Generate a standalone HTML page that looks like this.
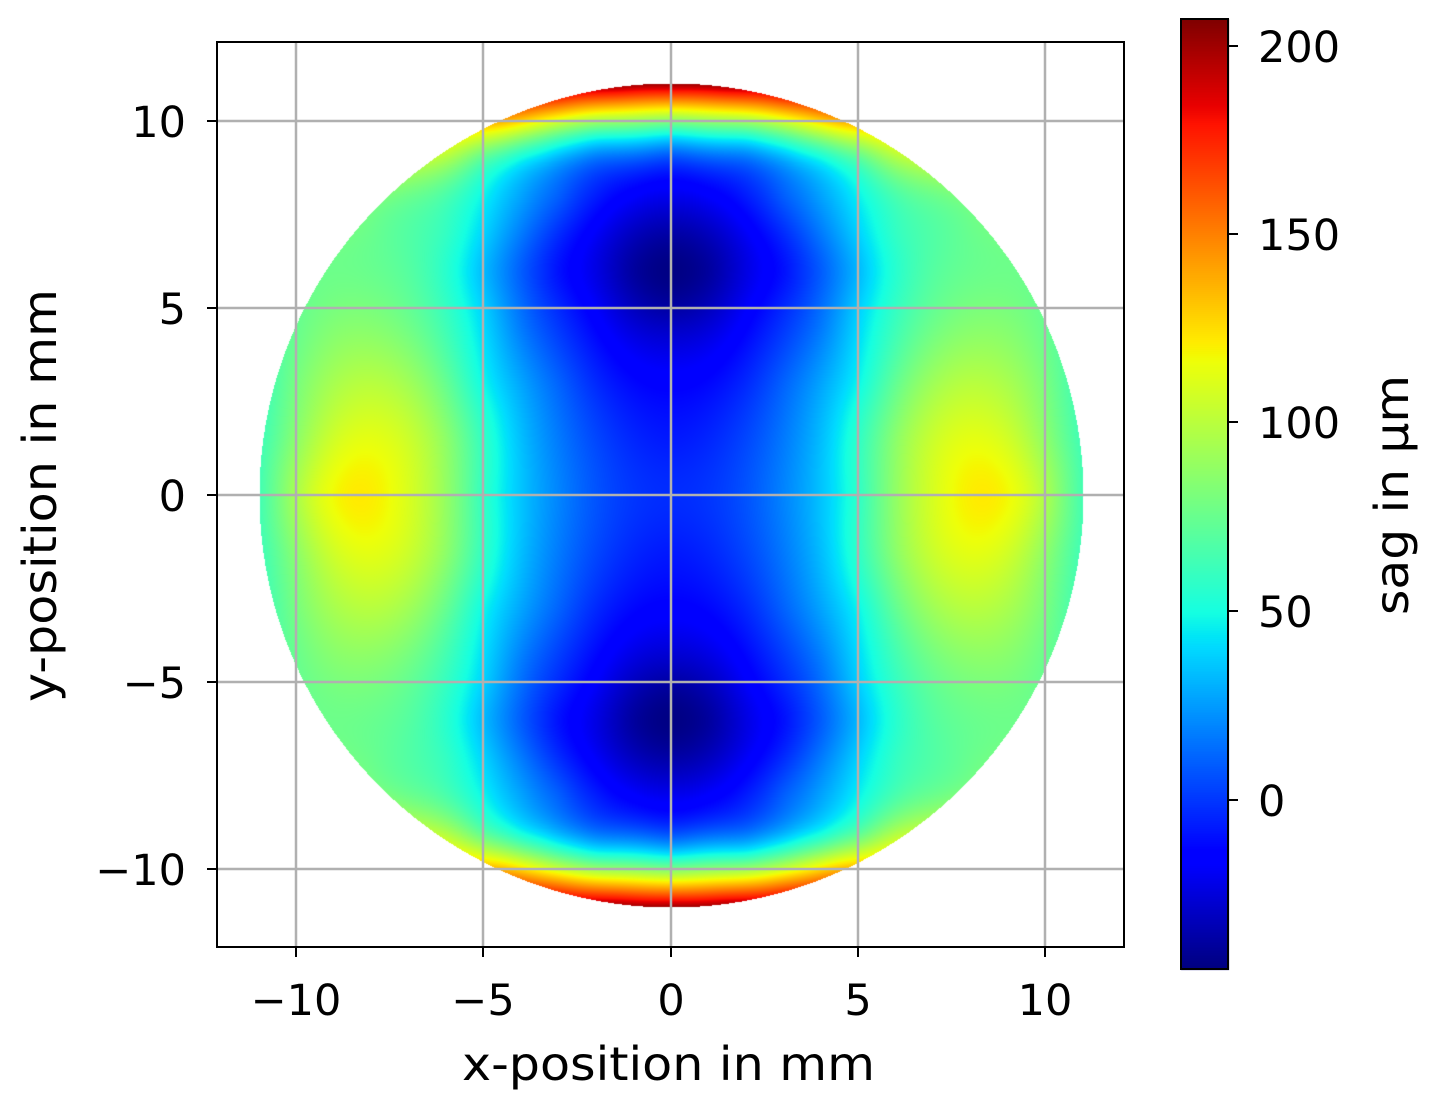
<!DOCTYPE html>
<html><head><meta charset="utf-8"><style>
html,body{margin:0;padding:0;background:#fff;width:1437px;height:1108px;overflow:hidden}
canvas,svg{position:absolute;left:0;top:0}
text{font-family:"DejaVu Sans","Liberation Sans",sans-serif;fill:#000}
</style></head><body>
<canvas id="c" width="1437" height="1108"></canvas>
<svg width="1437" height="1108" viewBox="0 0 1437 1108">
<g stroke="#b0b0b0" stroke-width="2.5">
<line x1="296" y1="42" x2="296" y2="947"/><line x1="483" y1="42" x2="483" y2="947"/><line x1="671" y1="42" x2="671" y2="947"/><line x1="858" y1="42" x2="858" y2="947"/><line x1="1045" y1="42" x2="1045" y2="947"/>
<line x1="217" y1="121" x2="1124" y2="121"/><line x1="217" y1="308" x2="1124" y2="308"/><line x1="217" y1="495" x2="1124" y2="495"/><line x1="217" y1="682" x2="1124" y2="682"/><line x1="217" y1="869" x2="1124" y2="869"/>
</g>
<rect x="217" y="42" width="907" height="905" fill="none" stroke="#000" stroke-width="2"/>
<g stroke="#000" stroke-width="2">
<line x1="296" y1="947" x2="296" y2="957"/><line x1="483" y1="947" x2="483" y2="957"/><line x1="671" y1="947" x2="671" y2="957"/><line x1="858" y1="947" x2="858" y2="957"/><line x1="1045" y1="947" x2="1045" y2="957"/>
<line x1="207" y1="121" x2="217" y2="121"/><line x1="207" y1="308" x2="217" y2="308"/><line x1="207" y1="495" x2="217" y2="495"/><line x1="207" y1="682" x2="217" y2="682"/><line x1="207" y1="869" x2="217" y2="869"/>
<line x1="1228" y1="46" x2="1238" y2="46"/><line x1="1228" y1="234" x2="1238" y2="234"/><line x1="1228" y1="422" x2="1238" y2="422"/><line x1="1228" y1="611" x2="1238" y2="611"/><line x1="1228" y1="800" x2="1238" y2="800"/>
</g>
<rect x="1181" y="19" width="47" height="950" fill="none" stroke="#000" stroke-width="2"/>
<g font-size="43" text-anchor="middle">
<text x="296" y="1015">−10</text><text x="483" y="1015">−5</text><text x="671" y="1015">0</text><text x="858" y="1015">5</text><text x="1045" y="1015">10</text>
</g>
<g font-size="46">
<text x="462" y="1080" textLength="413" lengthAdjust="spacingAndGlyphs">x-position in mm</text>
<text transform="translate(56,702) rotate(-90)" textLength="413" lengthAdjust="spacingAndGlyphs">y-position in mm</text>
<text transform="translate(1408,615) rotate(-90)" textLength="240" lengthAdjust="spacingAndGlyphs">sag in µm</text>
</g>
<g font-size="43" text-anchor="end">
<text x="186" y="137">10</text><text x="186" y="324">5</text><text x="186" y="511">0</text><text x="186" y="698">−5</text><text x="186" y="885">−10</text>
</g>
<g font-size="43">
<text x="1258" y="62">200</text><text x="1258" y="250">150</text><text x="1258" y="438">100</text><text x="1258" y="627">50</text><text x="1258" y="816">0</text>
</g>
</svg>
<script>
var rows={0:[[0,-2],[1,0],[2,7],[3,20],[4,35],[4.9,52],[5.5,75],[6.3,96],[7,108],[8.4,123],[9.5,112],[10,97],[10.5,78],[11,62]],
1.5:[[0,-8],[2,4],[3,17],[4,33],[5,58],[6,88],[8.4,113],[10.5,72]],
3:[[0,-14],[1,-12],[2,-4],[3,12],[4,28],[5,45],[6,75],[8,100],[10,82],[10.5,68]],
4.5:[[0,-28],[2,-14],[3,0],[4,15],[5,40],[7,77],[9,84],[10,75]],
5:[[0,-38],[2,-16],[3,-2],[4,15],[5,40],[6,60]],
6:[[0,-45],[1,-40],[2,-22],[3,-12],[4,8],[5,30],[6,55],[7,70],[8,75],[9,77]],
7:[[0,-36],[2,-18],[3,-3],[4,18],[5,40],[6,62],[8,77]],
8:[[0,-18],[1,-14],[2,-4],[3,15],[4,30],[5,48],[6,65],[7,74]],
9:[[0,2],[2,12],[3,27],[4,43],[5,63],[6,100]],
9.5:[[0,31],[2,40],[3,60],[4,80],[5,100]],
10:[[0,82],[2,92],[3,107],[4,132],[4.6,146]],
10.5:[[0,142],[2,152],[3,167]]};
var q=[];for(var k in rows){var y=parseFloat(k);rows[k].forEach(function(p){q.push([p[0],y,p[1]]);});}
q.push([0,11,207],[1.5,10.9,200],[7.78,7.78,76],[9,6.2,76],[10.2,4.2,73]);
var P=[];q.forEach(function(p){var sx=p[0]==0?[1]:[1,-1],sy=p[1]==0?[1]:[1,-1];sx.forEach(function(a){sy.forEach(function(b){P.push([a*p[0],b*p[1],p[2]]);});});});
var N=P.length,n=N+3;
function phi(r2){return r2<1e-12?0:0.5*r2*Math.log(r2);}
var A=[];
for(var i=0;i<n;i++){A.push(new Float64Array(n+1));}
for(var i=0;i<N;i++){for(var j=0;j<N;j++){var dx=P[i][0]-P[j][0],dy=P[i][1]-P[j][1];A[i][j]=phi(dx*dx+dy*dy);}
A[i][i]+=1.0;A[i][N]=1;A[i][N+1]=P[i][0];A[i][N+2]=P[i][1];A[N][i]=1;A[N+1][i]=P[i][0];A[N+2][i]=P[i][1];A[i][n]=P[i][2];}
for(var i=0;i<n;i++){var p=i;for(var k=i+1;k<n;k++)if(Math.abs(A[k][i])>Math.abs(A[p][i]))p=k;var t=A[i];A[i]=A[p];A[p]=t;
var piv=A[i][i];for(var k=0;k<n;k++){if(k==i)continue;var f=A[k][i]/piv;if(f===0)continue;var Ak=A[k],Ai=A[i];for(var j=i;j<=n;j++)Ak[j]-=f*Ai[j];}}
var w=[];for(var i=0;i<n;i++)w.push(A[i][n]/A[i][i]);
function F(x,y){var v=w[N]+w[N+1]*x+w[N+2]*y;for(var i=0;i<N;i++){var dx=x-P[i][0],dy=y-P[i][1];v+=w[i]*phi(dx*dx+dy*dy);}return v;}
var G=112,h=0.1,grid=[];for(var i=0;i<=G;i++){grid.push(new Float64Array(G+1));for(var j=0;j<=G;j++)grid[i][j]=F(i*h,j*h);}
function Fg(x,y){x=Math.abs(x)/h;y=Math.abs(y)/h;var i=Math.min(G-1,Math.floor(x)),j=Math.min(G-1,Math.floor(y));var fx=x-i,fy=y-j;
return grid[i][j]*(1-fx)*(1-fy)+grid[i+1][j]*fx*(1-fy)+grid[i][j+1]*(1-fx)*fy+grid[i+1][j+1]*fx*fy;}
function seg(pp,x){for(var i=1;i<pp.length;i++){if(x<=pp[i][0]){var a=pp[i-1],b=pp[i];return a[1]+(b[1]-a[1])*(x-a[0])/(b[0]-a[0]);}}return pp[pp.length-1][1];}
var RS=[[0,0],[0.35,0],[0.66,1],[0.89,1],[1,0.5]],GS=[[0,0],[0.125,0],[0.375,1],[0.64,1],[0.91,0],[1,0]],BS=[[0,0.5],[0.11,1],[0.34,1],[0.65,0],[1,0]];
function jet(x){x=Math.max(0,Math.min(1,x));return [seg(RS,x)*255,seg(GS,x)*255,seg(BS,x)*255];}
var cv=document.getElementById('c'),ctx=cv.getContext('2d');
var img=ctx.createImageData(1437,1108),d=img.data;
for(var i=0;i<d.length;i+=4){d[i]=d[i+1]=d[i+2]=255;d[i+3]=255;}
var vmin=-44.8,vmax=207,cx=671,cy=495,R=412,S=37.45;
for(var y=cy-R;y<=cy+R;y++)for(var x=cx-R;x<=cx+R;x++){var dx=x-cx,dy=cy-y;if(dx*dx+dy*dy>R*R)continue;
var v=Fg(dx/S,dy/S);var col=jet((v-vmin)/(vmax-vmin));var k=(y*1437+x)*4;d[k]=col[0];d[k+1]=col[1];d[k+2]=col[2];}
for(var y=19;y<=969;y++){var col=jet((969-y)/950);for(var x=1181;x<=1228;x++){var k=(y*1437+x)*4;d[k]=col[0];d[k+1]=col[1];d[k+2]=col[2];}}
ctx.putImageData(img,0,0);
</script>
</body></html>
